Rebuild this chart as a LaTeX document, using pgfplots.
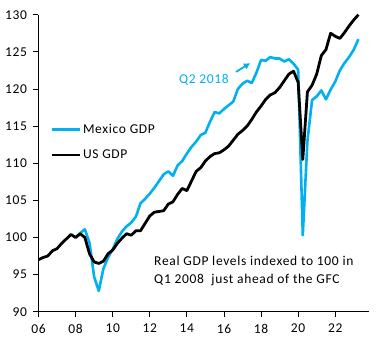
\documentclass[border=0pt]{standalone}
\usepackage{pgfplots}
\usepackage{pgfplotstable}
\pgfplotsset{compat=1.18}
\usepackage{fontspec}
\setmainfont{Carlito}[LetterSpace=5]
\usetikzlibrary{arrows.meta}
\definecolor{mxblue}{RGB}{0,176,240}

% Real GDP, quarterly, indexed to Q1 2008 = 100
\pgfplotstableread{
t v
2008.00 100.0
2008.25 100.6
2008.50 101.1
2008.75 99.3
2009.00 94.7
2009.25 92.8
2009.50 95.8
2009.75 97.3
2010.00 98.4
2010.25 99.8
2010.50 100.8
2010.75 101.5
2011.00 102.0
2011.25 102.8
2011.50 104.6
2011.75 105.2
2012.00 105.9
2012.25 106.7
2012.50 107.6
2012.75 108.5
2013.00 108.9
2013.25 108.3
2013.50 109.7
2013.75 110.3
2014.00 111.3
2014.25 112.2
2014.50 112.9
2014.75 113.8
2015.00 114.1
2015.25 115.6
2015.50 116.9
2015.75 116.7
2016.00 117.3
2016.25 117.8
2016.50 118.3
2016.75 120.0
2017.00 120.7
2017.25 121.1
2017.50 120.8
2017.75 122.2
2018.00 123.9
2018.25 123.8
2018.50 124.3
2018.75 124.1
2019.00 124.1
2019.25 123.7
2019.50 124.0
2019.75 123.4
2020.00 122.6
2020.25 100.3
2020.50 113.0
2020.75 118.5
2021.00 119.0
2021.25 119.8
2021.50 118.6
2021.75 119.9
2022.00 121.0
2022.25 122.5
2022.50 123.5
2022.75 124.3
2023.00 125.3
2023.25 126.7
}\mxdata

\pgfplotstableread{
t v
2006.00 97.0
2006.25 97.3
2006.50 97.5
2006.75 98.2
2007.00 98.5
2007.25 99.2
2007.50 99.8
2007.75 100.4
2008.00 100.0
2008.25 100.5
2008.50 100.0
2008.75 97.8
2009.00 96.7
2009.25 96.5
2009.50 96.8
2009.75 97.8
2010.00 98.3
2010.25 99.2
2010.50 99.9
2010.75 100.5
2011.00 100.3
2011.25 100.9
2011.50 100.9
2011.75 101.9
2012.00 102.9
2012.25 103.4
2012.50 103.5
2012.75 103.6
2013.00 104.5
2013.25 104.8
2013.50 105.8
2013.75 106.6
2014.00 106.3
2014.25 107.6
2014.50 108.9
2014.75 109.4
2015.00 110.3
2015.25 110.9
2015.50 111.3
2015.75 111.4
2016.00 111.8
2016.25 112.3
2016.50 113.1
2016.75 113.9
2017.00 114.4
2017.25 115.0
2017.50 115.9
2017.75 116.9
2018.00 117.7
2018.25 118.6
2018.50 119.2
2018.75 119.5
2019.00 120.2
2019.25 121.1
2019.50 122.0
2019.75 122.4
2020.00 120.9
2020.25 110.5
2020.50 119.6
2020.75 120.5
2021.00 122.0
2021.25 124.5
2021.50 125.3
2021.75 127.5
2022.00 127.1
2022.25 126.8
2022.50 127.6
2022.75 128.5
2023.00 129.3
2023.25 130.0
}\usdata

\newcommand{\chartfont}{\fontsize{13.5bp}{16bp}\selectfont}

\begin{document}
\begin{tikzpicture}
\path[use as bounding box] (-38.5bp,-28.3bp) rectangle (345.5bp,311.7bp);
\begin{axis}[
  scale only axis,
  width=330.5bp, height=297bp,
  xmin=2006, xmax=2023.82,
  ymin=90, ymax=130,
  axis x line*=bottom, axis y line*=left,
  axis line style={line width=0.9bp, -},
  tick align=outside,
  major tick length=5bp,
  tick style={line width=0.9bp, black},
  xtick={2006,2008,...,2022},
  xticklabels={06,08,10,12,14,16,18,20,22},
  ytick={90,95,...,130},
  /pgf/number format/assume math mode=true,
  ticklabel style={font=\chartfont},
  yticklabel style={xshift=-3bp},
  xticklabel style={yshift=-4bp},
  clip=false,
  legend style={draw=none, fill=none, font=\chartfont,
    at={(0.0348,0.571)}, anchor=west,
    row sep=15bp, column sep=2bp, inner sep=0pt,
    nodes={inner sep=0pt}},
  legend cell align=left,
  legend image code/.code={\draw[#1] (0bp,0bp) -- (28bp,0bp);},
]
\addplot[mxblue, line width=2.6bp, line join=round] table[x=t, y=v]{\mxdata};
\addlegendentry{Mexico GDP}
\addplot[black, line width=2.8bp, line join=round] table[x=t, y=v]{\usdata};
\addlegendentry{US GDP}

\node[anchor=west, inner sep=0pt, text=mxblue, font=\chartfont]
  at (axis cs:2013.57,121.3) {Q2 2018};
\draw[mxblue, line width=1.8bp, -{Triangle[length=6bp,width=6bp]}]
  (axis cs:2016.65,122.3) -- (axis cs:2017.40,123.45);

\node[anchor=base west, inner sep=0pt, font=\chartfont]
  at (axis cs:2012.23,96.25) {Real GDP levels indexed to 100 in};
\node[anchor=base west, inner sep=0pt, font=\chartfont]
  at (axis cs:2012.23,93.83) {Q1 2008 \ just ahead of the GFC};
\end{axis}
\end{tikzpicture}
\end{document}
